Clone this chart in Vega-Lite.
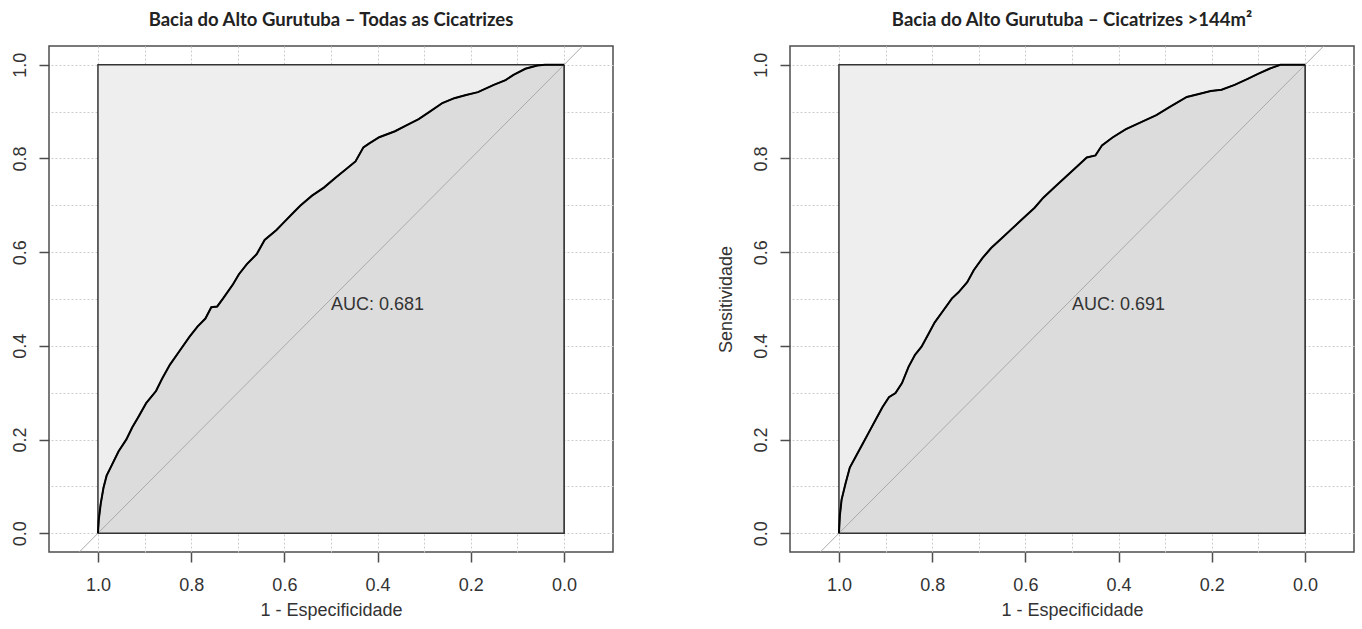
{
  "$schema": "https://vega.github.io/schema/vega-lite/v6.json",
  "padding": {"left": 10, "top": 9, "right": 0, "bottom": 0},
  "background": "white",
  "datasets": {
    "roc1": [
      {"x": 1.0, "y": 0.0}, {"x": 0.9983, "y": 0.0284}, {"x": 0.9941, "y": 0.0628}, {"x": 0.9881, "y": 0.0972},
      {"x": 0.9814, "y": 0.123}, {"x": 0.9729, "y": 0.14}, {"x": 0.9559, "y": 0.1746}, {"x": 0.939, "y": 0.2003},
      {"x": 0.9263, "y": 0.2261}, {"x": 0.9136, "y": 0.2476}, {"x": 0.8966, "y": 0.2777}, {"x": 0.8754, "y": 0.3035},
      {"x": 0.8627, "y": 0.3293}, {"x": 0.8458, "y": 0.3594}, {"x": 0.8246, "y": 0.3895}, {"x": 0.8034, "y": 0.4196},
      {"x": 0.7864, "y": 0.4411}, {"x": 0.7695, "y": 0.4583}, {"x": 0.7568, "y": 0.4824}, {"x": 0.7441, "y": 0.4841},
      {"x": 0.7314, "y": 0.5013}, {"x": 0.7102, "y": 0.5314}, {"x": 0.6975, "y": 0.5529}, {"x": 0.6805, "y": 0.5744},
      {"x": 0.6593, "y": 0.5959}, {"x": 0.6424, "y": 0.626}, {"x": 0.6169, "y": 0.6475}, {"x": 0.6042, "y": 0.6604},
      {"x": 0.5831, "y": 0.6819}, {"x": 0.5661, "y": 0.6991}, {"x": 0.5407, "y": 0.7206}, {"x": 0.5153, "y": 0.7377},
      {"x": 0.4898, "y": 0.7592}, {"x": 0.4686, "y": 0.7764}, {"x": 0.4475, "y": 0.7936}, {"x": 0.4305, "y": 0.8237},
      {"x": 0.4178, "y": 0.8323}, {"x": 0.3966, "y": 0.8452}, {"x": 0.3627, "y": 0.8581}, {"x": 0.3373, "y": 0.871},
      {"x": 0.3119, "y": 0.8839}, {"x": 0.2864, "y": 0.9011}, {"x": 0.261, "y": 0.9183}, {"x": 0.2356, "y": 0.9286},
      {"x": 0.2102, "y": 0.9355}, {"x": 0.1847, "y": 0.9415}, {"x": 0.1508, "y": 0.957}, {"x": 0.1254, "y": 0.9673},
      {"x": 0.1085, "y": 0.9785}, {"x": 0.0831, "y": 0.9914}, {"x": 0.0576, "y": 0.9983}, {"x": 0.0407, "y": 1.0},
      {"x": 0.0, "y": 1.0}
    ],
    "roc2": [
      {"x": 1.0, "y": 0.0}, {"x": 0.9981, "y": 0.037}, {"x": 0.9944, "y": 0.0714}, {"x": 0.986, "y": 0.1058},
      {"x": 0.9767, "y": 0.1402}, {"x": 0.9627, "y": 0.166}, {"x": 0.9487, "y": 0.1917}, {"x": 0.9347, "y": 0.2175},
      {"x": 0.9207, "y": 0.2433}, {"x": 0.9067, "y": 0.2691}, {"x": 0.8927, "y": 0.2906}, {"x": 0.8787, "y": 0.2992},
      {"x": 0.8647, "y": 0.3207}, {"x": 0.8507, "y": 0.3551}, {"x": 0.8368, "y": 0.3809}, {"x": 0.8228, "y": 0.3981},
      {"x": 0.8088, "y": 0.4239}, {"x": 0.7948, "y": 0.4497}, {"x": 0.7761, "y": 0.4755}, {"x": 0.7575, "y": 0.5013},
      {"x": 0.7435, "y": 0.5142}, {"x": 0.7248, "y": 0.5357}, {"x": 0.7108, "y": 0.5615}, {"x": 0.6922, "y": 0.5873},
      {"x": 0.6735, "y": 0.6088}, {"x": 0.6502, "y": 0.6303}, {"x": 0.6269, "y": 0.6518}, {"x": 0.5989, "y": 0.6776},
      {"x": 0.5802, "y": 0.6948}, {"x": 0.5616, "y": 0.7163}, {"x": 0.5336, "y": 0.7421}, {"x": 0.5149, "y": 0.7592},
      {"x": 0.4869, "y": 0.785}, {"x": 0.4683, "y": 0.8022}, {"x": 0.4496, "y": 0.8065}, {"x": 0.4356, "y": 0.828},
      {"x": 0.4123, "y": 0.8452}, {"x": 0.3843, "y": 0.8624}, {"x": 0.3563, "y": 0.8753}, {"x": 0.319, "y": 0.8925},
      {"x": 0.291, "y": 0.9097}, {"x": 0.2537, "y": 0.9312}, {"x": 0.2257, "y": 0.9381}, {"x": 0.2024, "y": 0.9441},
      {"x": 0.1791, "y": 0.9467}, {"x": 0.1511, "y": 0.957}, {"x": 0.1231, "y": 0.9699}, {"x": 0.0998, "y": 0.9811},
      {"x": 0.0765, "y": 0.9914}, {"x": 0.0532, "y": 1.0}, {"x": 0.0, "y": 1.0}
    ]
  },
  "hconcat": [
    {
      "width": 564,
      "height": 506,
      "title": {"text": "Bacia do Alto Gurutuba – Todas as Cicatrizes", "font": "Lato", "fontSize": 18.5, "fontWeight": "bold", "color": "#222222", "frame": "group", "anchor": "middle", "baseline": "alphabetic", "offset": 0},
      "encoding": {
        "x": {"field": "x", "type": "quantitative",
          "scale": {"domain": [-0.105, 1.105], "reverse": true, "nice": false, "zero": false},
          "axis": {"title": "1 - Especificidade", "values": [0, 0.1, 0.2, 0.3, 0.4, 0.5, 0.6, 0.7, 0.8, 0.9, 1],
            "labelExpr": "round(datum.value*10) % 2 == 0 ? format(datum.value, '.1f') : ''",
            "tickOpacity": {"condition": {"test": "round(datum.value*10) % 2 == 0", "value": 1}, "value": 0},
            "labelFlush": false, "labelOverlap": false, "titleY": 63, "titleBaseline": "alphabetic"}},
        "y": {"field": "y", "type": "quantitative",
          "scale": {"domain": [-0.04, 1.04], "nice": false, "zero": false},
          "axis": {"title": null, "values": [0, 0.1, 0.2, 0.3, 0.4, 0.5, 0.6, 0.7, 0.8, 0.9, 1],
            "labelExpr": "round(datum.value*10) % 2 == 0 ? format(datum.value, '.1f') : ''",
            "tickOpacity": {"condition": {"test": "round(datum.value*10) % 2 == 0", "value": 1}, "value": 0},
            "labelFlush": false, "labelOverlap": false, "labelAngle": 270, "labelAlign": "center", "labelBaseline": "alphabetic"}}
      },
      "layer": [
        {"data": {"values": [{"x": 1, "y": 0, "x2": 0, "y2": 1}]},
         "mark": {"type": "rect", "fill": "#eeeeee", "stroke": "#333333", "strokeWidth": 1.5},
         "encoding": {"x2": {"field": "x2"}, "y2": {"field": "y2"}}},
        {"data": {"name": "roc1"},
         "mark": {"type": "area", "fill": "#dcdcdc", "stroke": "#333333", "strokeWidth": 1.5},
         "encoding": {"y2": {"datum": 0}}},
        {"data": {"values": [{"x": 1.04, "y": -0.04}, {"x": -0.04, "y": 1.04}]},
         "mark": {"type": "line", "color": "#aaaaaa", "strokeWidth": 1}},
        {"data": {"name": "roc1"},
         "mark": {"type": "line", "color": "#000000", "strokeWidth": 2}},
        {"data": {"values": [{"x": 0.5, "y": 0.5, "label": "AUC: 0.681"}]},
         "mark": {"type": "text", "align": "left", "baseline": "top", "dy": -3, "font": "Liberation Sans", "fontSize": 18, "color": "#333333"},
         "encoding": {"text": {"field": "label"}}}
      ]
    },
    {
      "width": 564,
      "height": 506,
      "title": {"text": "Bacia do Alto Gurutuba – Cicatrizes >144m²", "font": "Lato", "fontSize": 18.5, "fontWeight": "bold", "color": "#222222", "frame": "group", "anchor": "middle", "baseline": "alphabetic", "offset": 0},
      "encoding": {
        "x": {"field": "x", "type": "quantitative",
          "scale": {"domain": [-0.105, 1.105], "reverse": true, "nice": false, "zero": false},
          "axis": {"title": "1 - Especificidade", "values": [0, 0.1, 0.2, 0.3, 0.4, 0.5, 0.6, 0.7, 0.8, 0.9, 1],
            "labelExpr": "round(datum.value*10) % 2 == 0 ? format(datum.value, '.1f') : ''",
            "tickOpacity": {"condition": {"test": "round(datum.value*10) % 2 == 0", "value": 1}, "value": 0},
            "labelFlush": false, "labelOverlap": false, "titleY": 63, "titleBaseline": "alphabetic"}},
        "y": {"field": "y", "type": "quantitative",
          "scale": {"domain": [-0.04, 1.04], "nice": false, "zero": false},
          "axis": {"title": "Sensitividade", "values": [0, 0.1, 0.2, 0.3, 0.4, 0.5, 0.6, 0.7, 0.8, 0.9, 1],
            "labelExpr": "round(datum.value*10) % 2 == 0 ? format(datum.value, '.1f') : ''",
            "tickOpacity": {"condition": {"test": "round(datum.value*10) % 2 == 0", "value": 1}, "value": 0},
            "labelFlush": false, "labelOverlap": false, "labelAngle": 270, "labelAlign": "center", "labelBaseline": "alphabetic",
            "titleAngle": 270, "titleAlign": "center", "titleBaseline": "alphabetic", "titleX": -59, "titleY": 253}}
      },
      "layer": [
        {"data": {"values": [{"x": 1, "y": 0, "x2": 0, "y2": 1}]},
         "mark": {"type": "rect", "fill": "#eeeeee", "stroke": "#333333", "strokeWidth": 1.5},
         "encoding": {"x2": {"field": "x2"}, "y2": {"field": "y2"}}},
        {"data": {"name": "roc2"},
         "mark": {"type": "area", "fill": "#dcdcdc", "stroke": "#333333", "strokeWidth": 1.5},
         "encoding": {"y2": {"datum": 0}}},
        {"data": {"values": [{"x": 1.04, "y": -0.04}, {"x": -0.04, "y": 1.04}]},
         "mark": {"type": "line", "color": "#aaaaaa", "strokeWidth": 1}},
        {"data": {"name": "roc2"},
         "mark": {"type": "line", "color": "#000000", "strokeWidth": 2}},
        {"data": {"values": [{"x": 0.5, "y": 0.5, "label": "AUC: 0.691"}]},
         "mark": {"type": "text", "align": "left", "baseline": "top", "dy": -3, "font": "Liberation Sans", "fontSize": 18, "color": "#333333"},
         "encoding": {"text": {"field": "label"}}}
      ]
    }
  ],
  "spacing": 177,
  "bounds": "flush",
  "config": {
    "view": {"stroke": "#4d4d4d", "strokeWidth": 1.5},
    "axis": {"domain": false, "labelFont": "Liberation Sans", "labelFontSize": 18, "labelColor": "#333333",
      "titleFont": "Liberation Sans", "titleFontSize": 18, "titleFontWeight": "normal", "titleColor": "#333333",
      "tickColor": "#4d4d4d", "tickSize": 10, "tickWidth": 1.5, "labelPadding": 14,
      "grid": true, "gridColor": "#cccccc", "gridDash": [2, 2], "gridWidth": 1}
  }
}
